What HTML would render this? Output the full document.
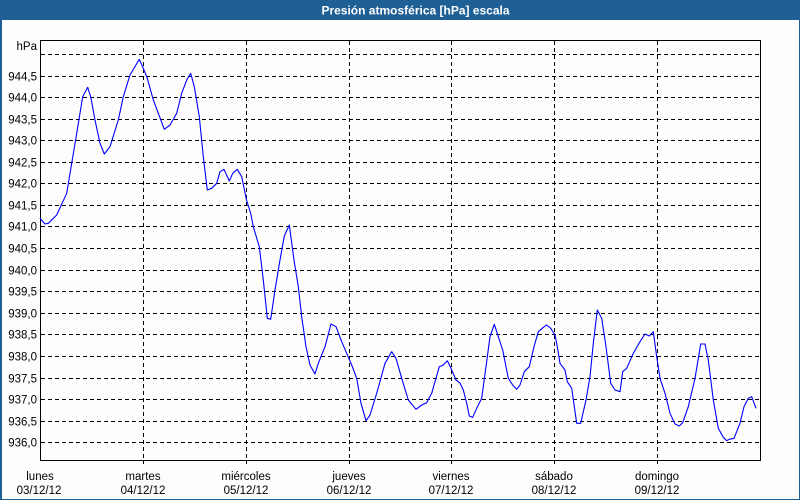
<!DOCTYPE html>
<html><head><meta charset="utf-8"><style>
html,body{margin:0;padding:0;background:#fcfdfc;}
svg{display:block;}
text{font-family:"Liberation Sans",Arial,sans-serif;}
</style></head><body>
<svg width="800" height="500" viewBox="0 0 800 500" xmlns="http://www.w3.org/2000/svg">
<rect x="0" y="0" width="800" height="500" fill="#fcfdfc"/>
<rect x="0" y="0" width="800" height="20" fill="#1e5f96"/>
<rect x="0" y="0" width="2" height="500" fill="#1e5f96"/>
<rect x="799" y="0" width="1" height="500" fill="#1e5f96"/>
<rect x="0" y="499" width="800" height="1" fill="#1e5f96"/>
<text x="415.5" y="14.5" fill="#fff" font-size="12" font-weight="bold" text-anchor="middle">Presión atmosférica [hPa] escala</text>

<g stroke="#000" stroke-width="1" stroke-dasharray="4,3" fill="none" shape-rendering="crispEdges">
<line x1="41" y1="54.5" x2="760" y2="54.5"/>
<line x1="41" y1="76.5" x2="760" y2="76.5"/>
<line x1="41" y1="97.5" x2="760" y2="97.5"/>
<line x1="41" y1="119.5" x2="760" y2="119.5"/>
<line x1="41" y1="140.5" x2="760" y2="140.5"/>
<line x1="41" y1="162.5" x2="760" y2="162.5"/>
<line x1="41" y1="183.5" x2="760" y2="183.5"/>
<line x1="41" y1="205.5" x2="760" y2="205.5"/>
<line x1="41" y1="226.5" x2="760" y2="226.5"/>
<line x1="41" y1="248.5" x2="760" y2="248.5"/>
<line x1="41" y1="270.5" x2="760" y2="270.5"/>
<line x1="41" y1="291.5" x2="760" y2="291.5"/>
<line x1="41" y1="313.5" x2="760" y2="313.5"/>
<line x1="41" y1="334.5" x2="760" y2="334.5"/>
<line x1="41" y1="356.5" x2="760" y2="356.5"/>
<line x1="41" y1="378.5" x2="760" y2="378.5"/>
<line x1="41" y1="399.5" x2="760" y2="399.5"/>
<line x1="41" y1="421.5" x2="760" y2="421.5"/>
<line x1="41" y1="442.5" x2="760" y2="442.5"/>
<line x1="143.5" y1="41" x2="143.5" y2="464"/>
<line x1="246.5" y1="41" x2="246.5" y2="464"/>
<line x1="349.5" y1="41" x2="349.5" y2="464"/>
<line x1="451.5" y1="41" x2="451.5" y2="464"/>
<line x1="554.5" y1="41" x2="554.5" y2="464"/>
<line x1="657.5" y1="41" x2="657.5" y2="464"/>
</g>
<rect x="40.5" y="40.5" width="720" height="420" fill="none" stroke="#000" stroke-width="1" shape-rendering="crispEdges"/>

<polyline fill="none" stroke="#0000ff" stroke-width="1.1" stroke-linejoin="round" points="40,218.3 45,224 48.3,223.3 56.7,215 66.7,193.3 71.7,163.3 76.7,133.3 82.7,96.7 87.7,87.3 90.7,96.7 95,120 100,143.3 104.3,154 110,146.7 118.3,120 123.3,96.7 130,75 139.3,59.3 143.3,68.3 147.3,78.3 153.3,100 158.3,113.3 164.3,129.3 170,125 176.7,113.3 181.7,93.3 186.7,80 190.7,73.3 194.3,86.7 199.3,116.7 203.3,156.7 207.3,190 211.7,188.3 216.7,183.3 220,171.7 224,169.3 229.3,181 232.7,173.3 237.3,169.3 241.7,176.7 246.5,200 250.7,213.3 253.3,226.7 259.3,246.7 263.3,280 267.3,318.3 270.7,319.3 275,290 280,260 284.3,236 289.3,225 294,260 298.3,286.7 301.7,316.7 306,346.7 310,365 315,374 318.3,363.3 325,346.7 331,324 336,326.7 341.7,341.7 346.7,353.3 351.7,365 356.7,378.3 361,403.3 366,420.7 370,415 376.7,393.3 385,363.3 391.7,351.7 396,358.3 401.7,378.3 408.3,400 416,409.3 421.7,405 426.7,402.7 431.7,393.3 439.3,366.7 443.3,365 447.3,360.7 451,368.3 456,380 460,383 463.3,390 466.7,403.3 469.3,416 472.7,417.3 476.7,408.3 481.7,398.3 486,366.7 490,336.7 494.3,324.3 498.3,336.7 502.7,350 508.3,378.3 512.7,385 516.7,389.3 520,385 524.3,371.7 529.3,366.7 534,346.7 538.3,331.7 543.3,327.3 546.7,325 550.7,328.3 555,335 557.3,346.7 560,363.3 565,370 567.3,381.7 571.7,388.3 576.7,423.3 580.7,423.3 586,400 590,376.7 593.3,343.3 597.3,310 601.7,318.3 606,346.7 610.7,383.3 615,390 620,391.7 622.7,371.7 626.7,368.3 633.3,353.3 640,341.7 645,334 649.3,336 653.3,331.7 656.7,356.7 660,378.3 665,393.3 670,413.3 675,424 679.3,426 682.7,422.7 688.3,406.7 695,378.3 700.7,344 705,344 708.3,360 713.3,400 718.3,428.3 723.3,437.3 726.7,440.7 729.3,439.3 734,438.3 740,423.3 744,406.7 748.3,398.3 751.7,396.7 756,408.3"/>

<g font-size="11.5" fill="#000" text-anchor="end">
<text x="37" y="50">hPa</text>
<text x="37" y="80.5">944,5</text>
<text x="37" y="101.5">944,0</text>
<text x="37" y="123.5">943,5</text>
<text x="37" y="144.5">943,0</text>
<text x="37" y="166.5">942,5</text>
<text x="37" y="187.5">942,0</text>
<text x="37" y="209.5">941,5</text>
<text x="37" y="230.5">941,0</text>
<text x="37" y="252.5">940,5</text>
<text x="37" y="274.5">940,0</text>
<text x="37" y="295.5">939,5</text>
<text x="37" y="317.5">939,0</text>
<text x="37" y="338.5">938,5</text>
<text x="37" y="360.5">938,0</text>
<text x="37" y="382.5">937,5</text>
<text x="37" y="403.5">937,0</text>
<text x="37" y="425.5">936,5</text>
<text x="37" y="446.5">936,0</text>
</g>
<g font-size="11.5" fill="#000" text-anchor="middle">
<text x="40" y="480">lunes</text><text x="39" y="494">03/12/12</text>
<text x="143" y="480">martes</text><text x="143" y="494">04/12/12</text>
<text x="246" y="480">miércoles</text><text x="246" y="494">05/12/12</text>
<text x="349" y="480">jueves</text><text x="349" y="494">06/12/12</text>
<text x="451" y="480">viernes</text><text x="451" y="494">07/12/12</text>
<text x="554" y="480">sábado</text><text x="554" y="494">08/12/12</text>
<text x="657" y="480">domingo</text><text x="657" y="494">09/12/12</text>
</g>
</svg>
</body></html>
